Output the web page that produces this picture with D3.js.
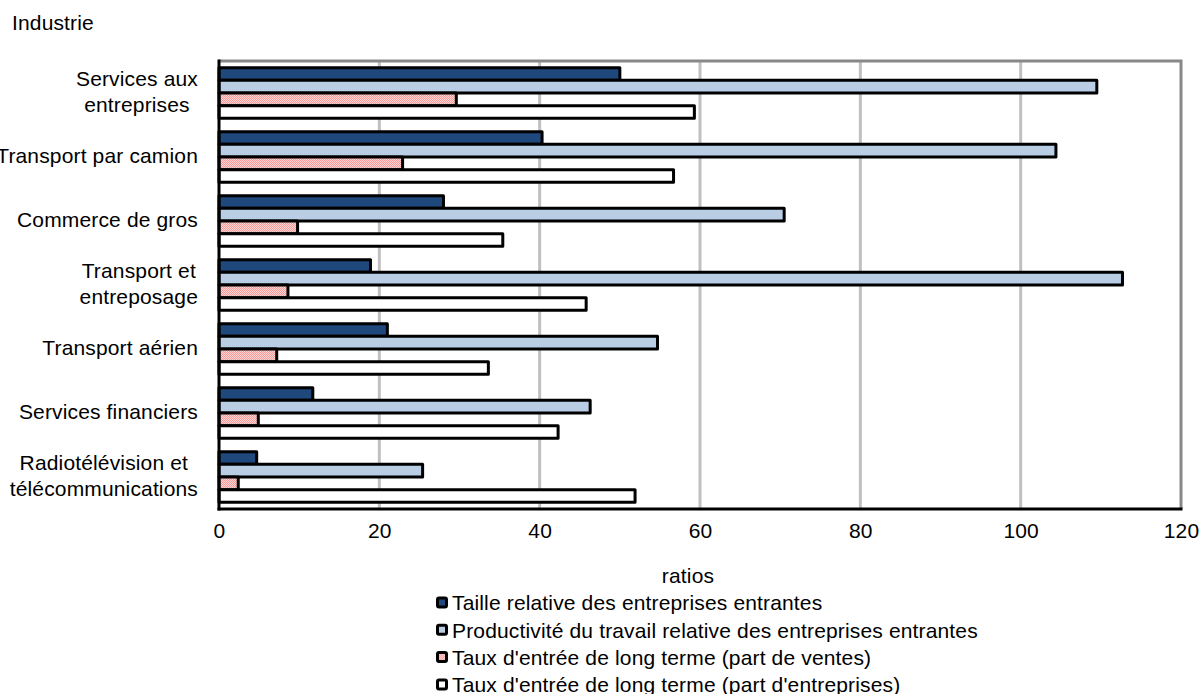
<!DOCTYPE html>
<html>
<head>
<meta charset="utf-8">
<script src="https://cdn.jsdelivr.net/npm/d3@7"></script>
<style>
  html, body { margin: 0; padding: 0; background: #fff; }
  svg { display: block; font-family: "Liberation Sans", Arial, sans-serif; }
  svg text { letter-spacing: 0.15px; }
</style>
</head>
<body>
<svg id="chart" width="1201" height="694"></svg>
<script>
// Industries, top to bottom
const categories = [
  "Services aux\nentreprises",
  "Transport par camion",
  "Commerce de gros",
  "Transport et\nentreposage",
  "Transport aérien",
  "Services financiers",
  "Radiotélévision et\ntélécommunications"
];

const seriesNames = [
  "Taille relative des entreprises entrantes",
  "Productivité du travail relative des entreprises entrantes",
  "Taux d'entrée de long terme (part de ventes)",
  "Taux d'entrée de long terme (part d'entreprises)"
];

// Ratios per industry, same order as categories
const tailleRelative       = [50.0, 40.3, 28.0, 18.9, 21.0, 11.7, 4.7];
const productiviteRelative = [109.5, 104.4, 70.5, 112.7, 54.7, 46.3, 25.4];
const entreeVentes         = [29.6, 22.9, 9.8, 8.6, 7.2, 4.9, 2.4];
const entreeEntreprises    = [59.3, 56.7, 35.4, 45.8, 33.6, 42.3, 51.9];

const xTicks = [0, 20, 40, 60, 80, 100, 120];

const seriesValues = [tailleRelative, productiviteRelative, entreeVentes, entreeEntreprises];
const seriesFills = ["#1F497D", "#B9CDE5", "url(#pinkDots)", "#FFFFFF"];

const FONT = 21;
const svg = d3.select("#chart");
const margin = { left: 219, right: 20, top: 61, bottom: 185 };
const W = 1201, H = 694;
const x0 = margin.left, x1 = W - margin.right;
const y0 = margin.top, y1 = H - margin.bottom;

// Fine red-on-white dot pattern for the sales-share series
const defs = svg.append("defs");
const pat = defs.append("pattern")
  .attr("id", "pinkDots")
  .attr("patternUnits", "userSpaceOnUse")
  .attr("width", 2).attr("height", 2);
pat.append("rect").attr("width", 2).attr("height", 2).attr("fill", "#FFFFFF");
pat.append("rect").attr("width", 1).attr("height", 1).attr("fill", "#F07070");
pat.append("rect").attr("x", 1).attr("y", 1).attr("width", 1).attr("height", 1).attr("fill", "#F07070");

const x = d3.scaleLinear().domain([0, 120]).range([x0, x1]);
const y = d3.scaleBand().domain(d3.range(categories.length)).range([y0, y1]).paddingInner(0.21).paddingOuter(0.105);
const ySub = d3.scaleBand().domain(d3.range(seriesValues.length)).range([0, y.bandwidth()]);

// Vertical gridlines
svg.append("g")
  .selectAll("line")
  .data(xTicks.filter(t => t > 0 && t < 120))
  .join("line")
  .attr("x1", d => x(d)).attr("x2", d => x(d))
  .attr("y1", y0).attr("y2", y1)
  .attr("stroke", "#C0C0C0").attr("stroke-width", 3);

// Plot frame: top and right edges
svg.append("path")
  .attr("d", `M${x0},${y0}H${x1}V${y1}`)
  .attr("fill", "none").attr("stroke", "#888888").attr("stroke-width", 3);

// Bars
const groups = svg.append("g")
  .selectAll("g")
  .data(categories.map((c, i) => i))
  .join("g")
  .attr("transform", i => `translate(0,${y(i)})`);

groups.selectAll("rect")
  .data(i => seriesValues.map((vals, s) => ({ s, v: vals[i] })))
  .join("rect")
  .attr("x", x(0))
  .attr("y", d => ySub(d.s))
  .attr("width", d => x(d.v) - x(0))
  .attr("height", ySub.bandwidth())
  .attr("fill", d => seriesFills[d.s])
  .attr("stroke", "#000")
  .attr("stroke-width", 3)
  .attr("stroke-linejoin", "round");

// Axes lines
svg.append("line").attr("x1", x0).attr("x2", x0).attr("y1", y0 - 1.5).attr("y2", y1 + 1.5)
  .attr("stroke", "#000").attr("stroke-width", 3);
svg.append("line").attr("x1", x0 - 1.5).attr("x2", x1 + 1.5).attr("y1", y1).attr("y2", y1)
  .attr("stroke", "#000").attr("stroke-width", 3);

// X tick labels
const xAxis = d3.axisBottom(x).tickValues(xTicks).tickSize(0).tickPadding(14);
const gx = svg.append("g").attr("transform", `translate(0,${y1})`).call(xAxis);
gx.select(".domain").remove();
gx.selectAll("text")
  .attr("font-family", "Liberation Sans, Arial, sans-serif")
  .attr("font-size", FONT).attr("fill", "#000");

// Category labels: multi-line, centred lines, block right-aligned
const labelRight = 198;
const lineH = 26;
categories.forEach((c, i) => {
  const lines = c.split("\n");
  const cy = y(i) + y.bandwidth() / 2 - 1;
  const t = svg.append("text")
    .attr("font-size", FONT).attr("fill", "#000")
    .attr("text-anchor", "middle");
  const spans = lines.map((ln, k) =>
    t.append("tspan").text(ln)
      .attr("y", cy + (k - (lines.length - 1) / 2) * lineH)
      .attr("dy", "0.35em"));
  const maxW = d3.max(spans, s => s.node().getComputedTextLength());
  spans.forEach(s => s.attr("x", labelRight - maxW / 2));
});

// Axis titles
svg.append("text").attr("x", 12).attr("y", 30)
  .attr("font-size", FONT).attr("fill", "#000").text("Industrie");
svg.append("text").attr("x", 688).attr("y", 583)
  .attr("text-anchor", "middle")
  .attr("font-size", FONT).attr("fill", "#000").text("ratios");

// Legend
const legend = svg.append("g").attr("transform", "translate(436,603)");
const rowH = 27.3;
seriesNames.forEach((name, s) => {
  const g = legend.append("g").attr("transform", `translate(0,${s * rowH})`);
  g.append("rect")
    .attr("x", 1.5).attr("y", -5).attr("width", 9).attr("height", 9)
    .attr("rx", 1.5)
    .attr("fill", seriesFills[s])
    .attr("stroke", "#000").attr("stroke-width", 3);
  g.append("text").attr("x", 16).attr("y", 0).attr("dy", "0.35em")
    .attr("font-size", FONT).attr("fill", "#000").text(name);
});
</script>
</body>
</html>
